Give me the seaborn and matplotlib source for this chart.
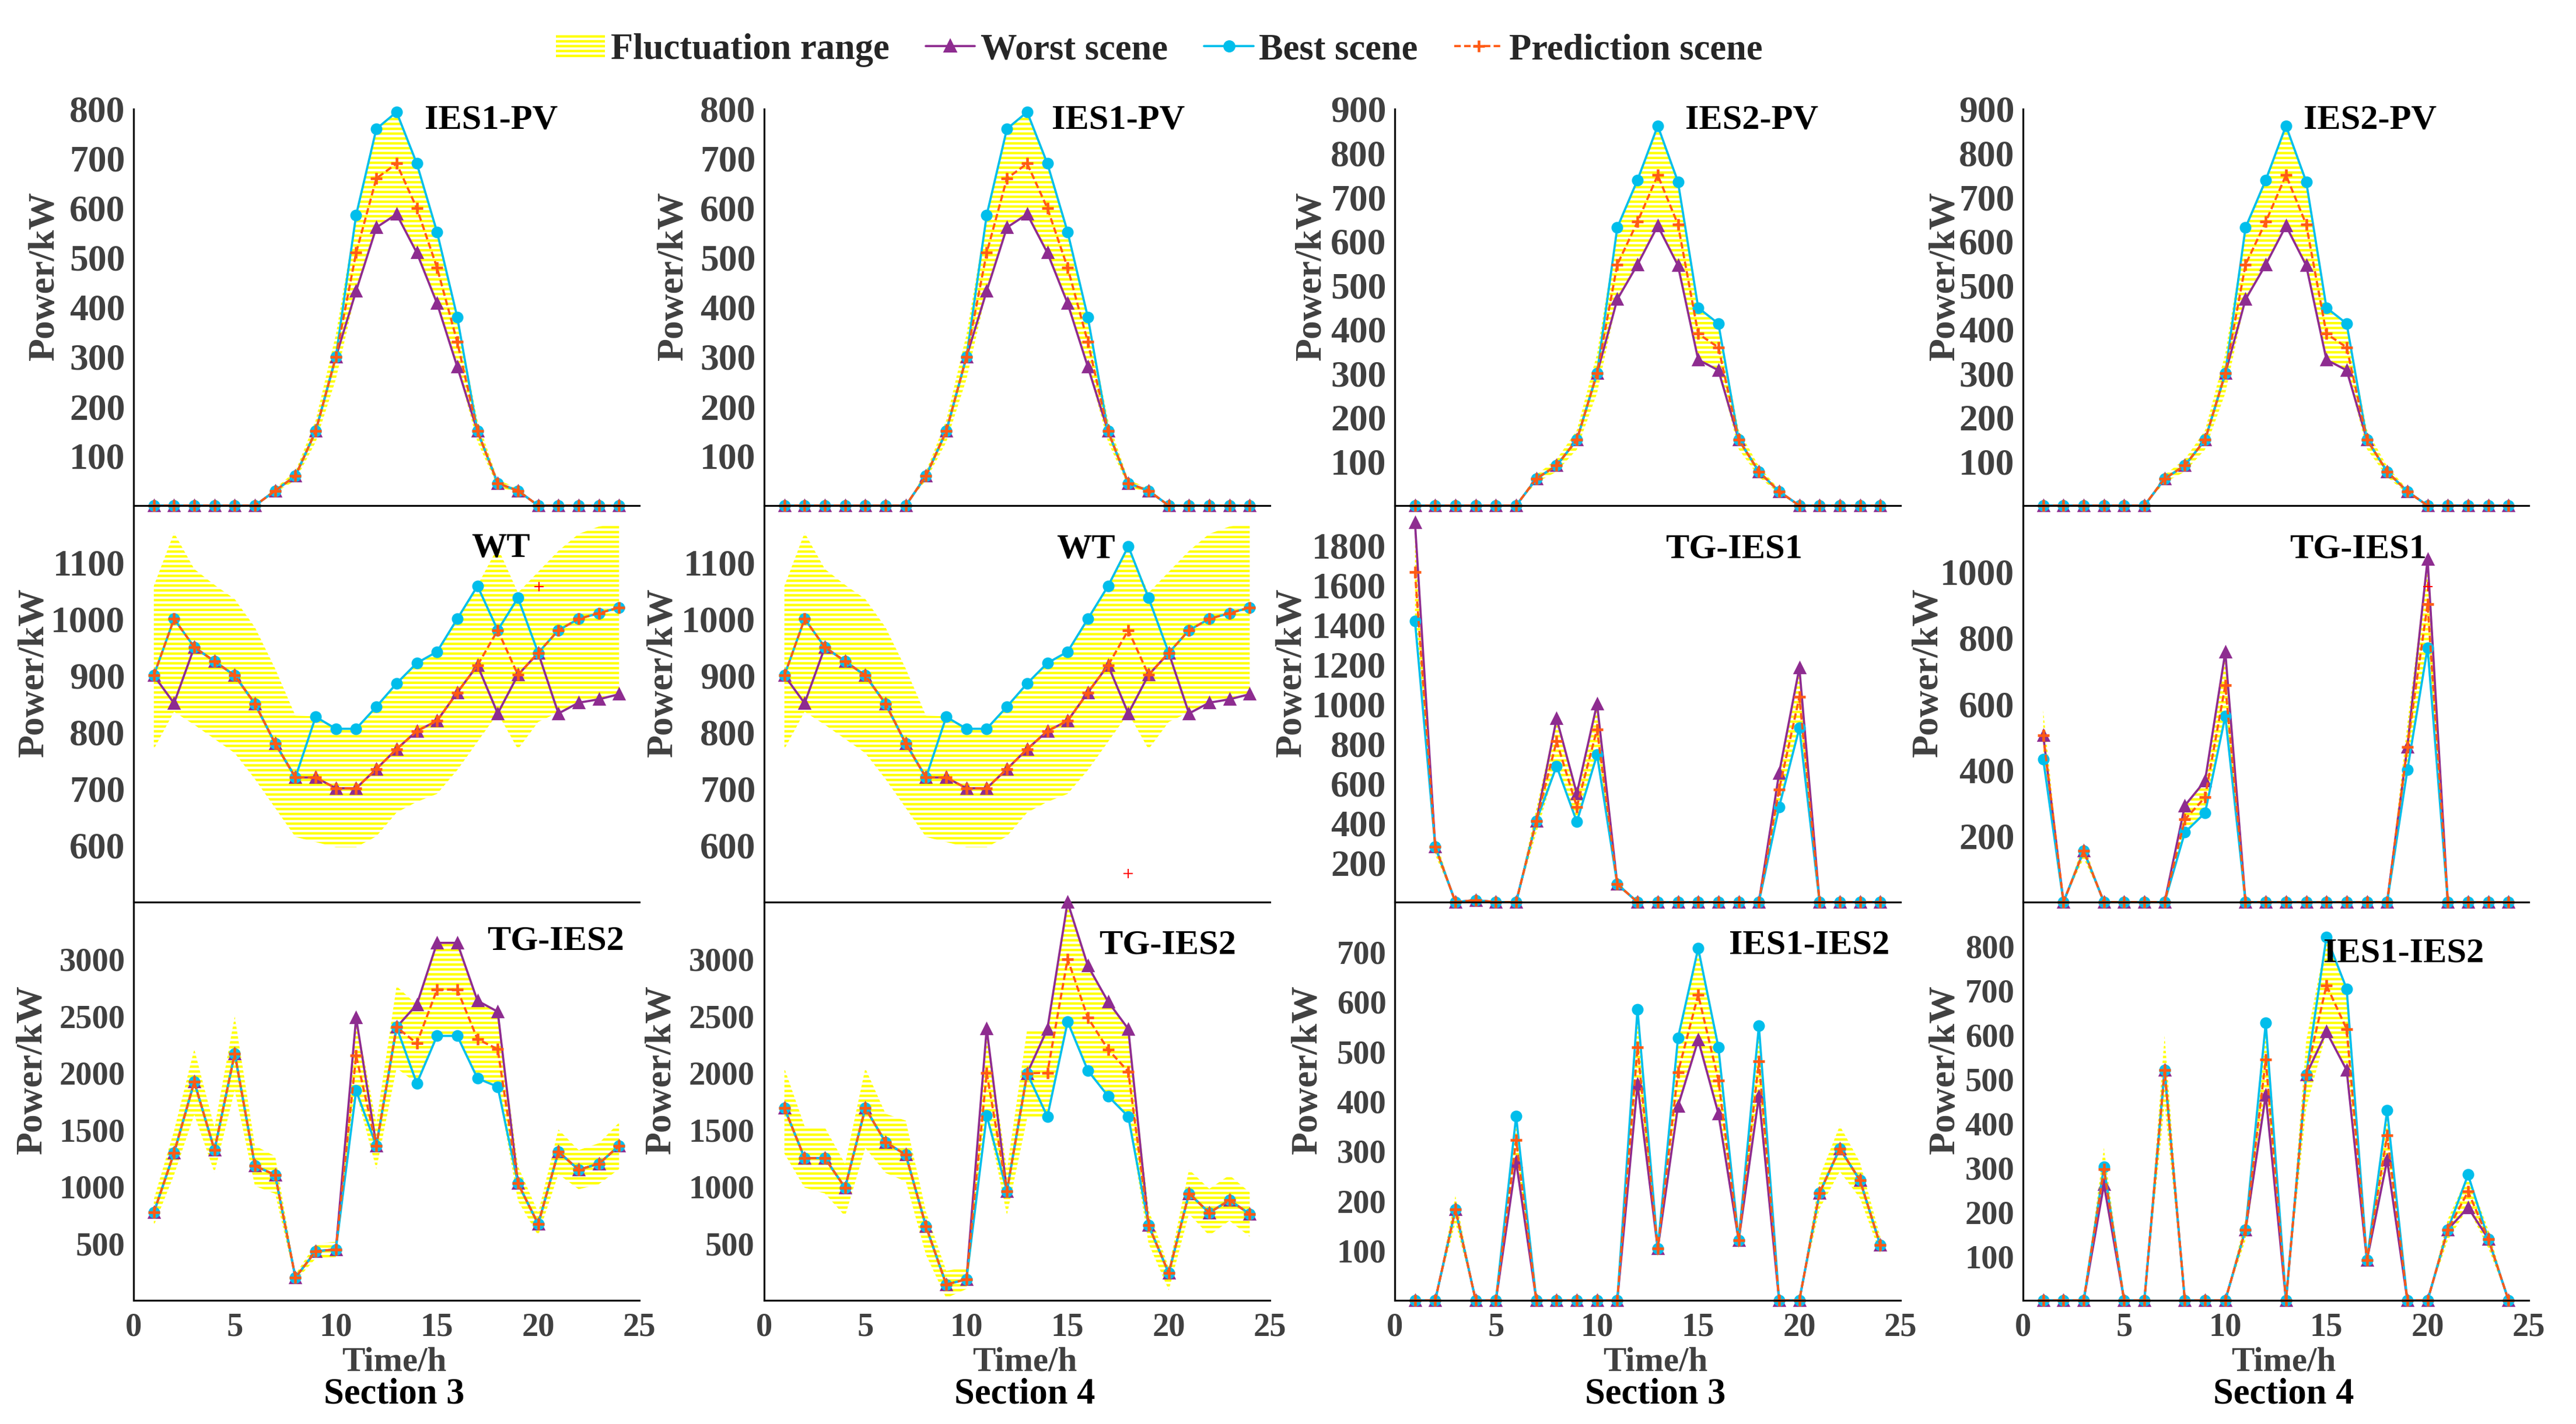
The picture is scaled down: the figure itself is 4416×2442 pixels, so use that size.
import matplotlib
matplotlib.use("Agg")
import matplotlib.pyplot as plt
from matplotlib.lines import Line2D
from matplotlib.patches import Patch
import seaborn as sns

# ---- data ----
hours = list(range(1, 25))

# IES1-PV
pv1_s3_pred = [0, 0, 0, 0, 0, 0, 30, 60, 150, 300, 510, 660, 690, 600, 480, 330, 150, 45, 30, 0, 0, 0, 0, 0]
pv1_s3_best = [0, 0, 0, 0, 0, 0, 30, 60, 150, 300, 586, 760, 794, 690, 552, 380, 150, 45, 30, 0, 0, 0, 0, 0]
pv1_s3_worst = [0, 0, 0, 0, 0, 0, 30, 60, 150, 300, 433, 561, 588, 510, 408, 280, 150, 45, 30, 0, 0, 0, 0, 0]
pv1_s3_lo = [0, 0, 0, 0, 0, 0, 26, 51, 128, 255, 433, 561, 587, 510, 408, 280, 128, 38, 26, 0, 0, 0, 0, 0]
pv1_s3_hi = [0, 0, 0, 0, 0, 0, 35, 69, 172, 345, 586, 759, 794, 690, 552, 380, 172, 52, 35, 0, 0, 0, 0, 0]

pv1_s4_pred = [0, 0, 0, 0, 0, 0, 0, 60, 150, 300, 510, 660, 690, 600, 480, 330, 150, 45, 30, 0, 0, 0, 0, 0]
pv1_s4_best = [0, 0, 0, 0, 0, 0, 0, 60, 150, 300, 586, 760, 794, 690, 552, 380, 150, 45, 30, 0, 0, 0, 0, 0]
pv1_s4_worst = [0, 0, 0, 0, 0, 0, 0, 60, 150, 300, 433, 561, 588, 510, 408, 280, 150, 45, 30, 0, 0, 0, 0, 0]
pv1_s4_lo = [0, 0, 0, 0, 0, 0, 0, 51, 128, 255, 433, 561, 587, 510, 408, 280, 128, 38, 26, 0, 0, 0, 0, 0]
pv1_s4_hi = [0, 0, 0, 0, 0, 0, 0, 69, 172, 345, 586, 759, 794, 690, 552, 380, 172, 52, 35, 0, 0, 0, 0, 0]

# IES2-PV (same in both sections)
pv2_pred = [0, 0, 0, 0, 0, 0, 61, 91, 149, 300, 547, 644, 750, 638, 390, 359, 150, 77, 32, 0, 0, 0, 0, 0]
pv2_best = [0, 0, 0, 0, 0, 0, 61, 91, 149, 300, 631, 739, 862, 735, 449, 413, 150, 77, 32, 0, 0, 0, 0, 0]
pv2_worst = [0, 0, 0, 0, 0, 0, 61, 91, 149, 300, 468, 547, 635, 545, 331, 307, 150, 77, 32, 0, 0, 0, 0, 0]
pv2_lo = [0, 0, 0, 0, 0, 0, 52, 77, 127, 255, 468, 547, 635, 545, 331, 307, 128, 65, 27, 0, 0, 0, 0, 0]
pv2_hi = [0, 0, 0, 0, 0, 0, 70, 105, 171, 345, 631, 739, 862, 735, 449, 413, 172, 89, 37, 0, 0, 0, 0, 0]

# WT
wt_s3_pred = [900, 1000, 950, 925, 900, 850, 780, 720, 720, 701, 701, 735, 770, 802, 820, 870, 918, 980, 901, 940, 980, 1000, 1010, 1020]
wt_s3_best = [900, 1000, 950, 925, 900, 850, 780, 720, 827, 806, 806, 845, 886, 922, 942, 1000, 1058, 980, 1037, 940, 980, 1000, 1010, 1020]
wt_s3_worst = [900, 851, 950, 925, 900, 850, 780, 720, 720, 701, 701, 735, 770, 802, 820, 870, 918, 833, 901, 940, 833, 852, 858, 867]
wt_s4_pred = wt_s3_pred
wt_s4_best = [900, 1000, 950, 925, 900, 850, 780, 720, 827, 806, 806, 845, 886, 922, 942, 1000, 1058, 1128, 1037, 940, 980, 1000, 1010, 1020]
wt_s4_worst = wt_s3_worst
wt_lo = [770, 836, 813, 788, 763, 717, 666, 615, 606, 597, 597, 616, 658, 677, 691, 733, 783, 833, 770, 818, 835, 852, 858, 867]
wt_hi = [1058, 1152, 1088, 1060, 1035, 985, 912, 829, 828, 807, 807, 845, 886, 922, 942, 1000, 1059, 1126, 1046, 1083, 1120, 1150, 1163, 1168]

# TG-IES1
tg1_s3_pred = [1665, 280, 0, 10, 0, 0, 410, 811, 480, 872, 90, 0, 0, 0, 0, 0, 0, 0, 568, 1034, 0, 0, 0, 0]
tg1_s3_best = [1419, 280, 0, 10, 0, 0, 410, 686, 405, 743, 90, 0, 0, 0, 0, 0, 0, 0, 480, 878, 0, 0, 0, 0]
tg1_s3_worst = [1915, 280, 0, 10, 0, 0, 410, 926, 547, 1000, 90, 0, 0, 0, 0, 0, 0, 0, 650, 1182, 0, 0, 0, 0]
tg1_s3_lo = [1415, 238, 0, 8, 0, 0, 349, 689, 408, 741, 77, 0, 0, 0, 0, 0, 0, 0, 483, 879, 0, 0, 0, 0]
tg1_s3_hi = [1915, 322, 0, 12, 0, 0, 472, 933, 552, 1003, 104, 0, 0, 0, 0, 0, 0, 0, 653, 1189, 0, 0, 0, 0]

tg1_s4_pred = [505, 0, 155, 0, 0, 0, 0, 250, 317, 656, 0, 0, 0, 0, 0, 0, 0, 0, 470, 902, 0, 0, 0, 0]
tg1_s4_best = [432, 0, 155, 0, 0, 0, 0, 211, 270, 563, 0, 0, 0, 0, 0, 0, 0, 0, 400, 770, 0, 0, 0, 0]
tg1_s4_worst = [505, 0, 155, 0, 0, 0, 0, 292, 367, 757, 0, 0, 0, 0, 0, 0, 0, 0, 470, 1038, 0, 0, 0, 0]
tg1_s4_lo = [429, 0, 132, 0, 0, 0, 0, 212, 269, 558, 0, 0, 0, 0, 0, 0, 0, 0, 400, 767, 0, 0, 0, 0]
tg1_s4_hi = [581, 0, 178, 0, 0, 0, 0, 288, 365, 754, 0, 0, 0, 0, 0, 0, 0, 0, 540, 1037, 0, 0, 0, 0]

# TG-IES2
tg2_s3_pred = [772, 1296, 1920, 1321, 2170, 1182, 1102, 200, 432, 448, 2151, 1358, 2401, 2259, 2731, 2731, 2296, 2207, 1028, 670, 1306, 1148, 1201, 1358]
tg2_s3_best = [772, 1296, 1920, 1321, 2170, 1182, 1102, 200, 432, 448, 1843, 1358, 2401, 1907, 2324, 2324, 1951, 1877, 1028, 670, 1306, 1148, 1201, 1358]
tg2_s3_worst = [772, 1296, 1920, 1321, 2170, 1182, 1102, 200, 432, 448, 2485, 1358, 2401, 2599, 3142, 3142, 2633, 2537, 1028, 670, 1306, 1148, 1201, 1358]
tg2_s3_lo = [656, 1102, 1632, 1123, 1845, 1005, 937, 170, 367, 381, 1828, 1154, 2041, 1907, 2321, 2321, 1951, 1876, 874, 570, 1110, 976, 1021, 1154]
tg2_s3_hi = [888, 1490, 2208, 1519, 2496, 1359, 1267, 230, 497, 515, 2485, 1562, 2761, 2599, 3142, 3142, 2640, 2538, 1182, 771, 1502, 1320, 1381, 1562]

tg2_s4_pred = [1690, 1250, 1250, 990, 1690, 1390, 1280, 650, 140, 185, 2000, 960, 1995, 2000, 3000, 2484, 2205, 2010, 660, 240, 940, 770, 880, 760]
tg2_s4_best = [1690, 1250, 1250, 990, 1690, 1390, 1280, 650, 140, 185, 1625, 960, 1995, 1615, 2450, 2020, 1795, 1615, 660, 240, 940, 770, 880, 760]
tg2_s4_worst = [1690, 1250, 1250, 990, 1690, 1390, 1280, 650, 140, 185, 2390, 960, 1995, 2385, 3500, 2940, 2625, 2385, 660, 240, 940, 770, 880, 760]
tg2_s4_lo = [1290, 990, 940, 740, 1340, 1120, 1045, 400, 20, 100, 1625, 750, 1600, 1615, 2450, 2020, 1795, 1615, 500, 90, 760, 570, 700, 560]
tg2_s4_hi = [2040, 1530, 1520, 1200, 2040, 1640, 1580, 780, 260, 290, 2390, 1150, 2380, 2385, 3500, 2940, 2625, 2385, 800, 290, 1150, 980, 1100, 950]

# IES1-IES2
tie_s3_pred = [0, 0, 183, 0, 0, 322, 0, 0, 0, 0, 0, 508, 104, 458, 614, 442, 121, 480, 0, 0, 216, 305, 241, 111]
tie_s3_best = [0, 0, 183, 0, 0, 370, 0, 0, 0, 0, 0, 585, 104, 527, 707, 508, 121, 552, 0, 0, 216, 305, 241, 111]
tie_s3_worst = [0, 0, 183, 0, 0, 279, 0, 0, 0, 0, 0, 434, 104, 390, 523, 375, 121, 410, 0, 0, 216, 305, 241, 111]
tie_s3_lo = [0, 0, 156, 0, 0, 274, 0, 0, 0, 0, 0, 432, 88, 389, 522, 376, 103, 408, 0, 0, 184, 259, 205, 94]
tie_s3_hi = [0, 0, 210, 0, 0, 370, 0, 0, 0, 0, 0, 584, 120, 527, 706, 508, 139, 552, 0, 0, 248, 351, 277, 128]

tie_s4_pred = [0, 0, 0, 296, 0, 0, 520, 0, 0, 0, 160, 544, 0, 510, 712, 613, 91, 373, 0, 0, 160, 246, 139, 0]
tie_s4_best = [0, 0, 0, 302, 0, 0, 520, 0, 0, 0, 160, 627, 0, 510, 821, 704, 91, 429, 0, 0, 160, 284, 139, 0]
tie_s4_worst = [0, 0, 0, 262, 0, 0, 520, 0, 0, 0, 160, 464, 0, 510, 607, 520, 91, 317, 0, 0, 160, 210, 139, 0]
tie_s4_lo = [0, 0, 0, 252, 0, 0, 442, 0, 0, 0, 136, 462, 0, 434, 605, 521, 77, 317, 0, 0, 136, 209, 118, 0]
tie_s4_hi = [0, 0, 0, 345, 0, 0, 598, 0, 0, 0, 184, 626, 0, 587, 819, 705, 105, 429, 0, 0, 184, 283, 160, 0]

# stray single markers visible in the picture
stray_wt_s3 = ([20.05], [1057])
stray_wt_s4 = ([18.0], [550])
stray_tg1_s4 = ([20.0], [955])

legend_labels = ["Fluctuation range", "Worst scene", "Best scene", "Prediction scene"]
section_labels = ["Section 3", "Section 4", "Section 3", "Section 4"]

# ---- style ----
sns.set_style("white")
plt.rcParams['font.family'] = ['Liberation Serif', 'DejaVu Serif']
plt.rcParams['font.weight'] = 'bold'
plt.rcParams['hatch.color'] = '#FFFF00'
plt.rcParams['hatch.linewidth'] = 1.0

C_WORST = '#8E2C90'
C_BEST = '#00BEEB'
C_PRED = '#FF5A14'
C_FILL = '#FFFF00'
GREY = '#404040'
HATCH = '------'

W, H = 4416, 2442
fig = plt.figure(figsize=(W / 300, H / 300), dpi=300)

col_left = [229, 1310, 2391, 3468]
col_w = 867
row_top = [187, 867, 1547]
row_h = [680, 680, 683]

panels = [
    # row 0
    dict(r=0, c=0, title="IES1-PV", tx=0.707, ty=0.95, d=(pv1_s3_lo, pv1_s3_hi, pv1_s3_worst, pv1_s3_best, pv1_s3_pred),
         ylim=(0, 800), yt=list(range(100, 801, 100)), lx=-0.142),
    dict(r=0, c=1, title="IES1-PV", tx=0.70, ty=0.95, d=(pv1_s4_lo, pv1_s4_hi, pv1_s4_worst, pv1_s4_best, pv1_s4_pred),
         ylim=(0, 800), yt=list(range(100, 801, 100)), lx=-0.146),
    dict(r=0, c=2, title="IES2-PV", tx=0.706, ty=0.95, d=(pv2_lo, pv2_hi, pv2_worst, pv2_best, pv2_pred),
         ylim=(0, 900), yt=list(range(100, 901, 100)), lx=-0.13),
    dict(r=0, c=3, title="IES2-PV", tx=0.686, ty=0.95, d=(pv2_lo, pv2_hi, pv2_worst, pv2_best, pv2_pred),
         ylim=(0, 900), yt=list(range(100, 901, 100)), lx=-0.12),
    # row 1
    dict(r=1, c=0, title="WT", tx=0.726, ty=0.87, d=(wt_lo, wt_hi, wt_s3_worst, wt_s3_best, wt_s3_pred),
         ylim=(500, 1200), yt=list(range(600, 1101, 100)), lx=-0.163, stray=stray_wt_s3),
    dict(r=1, c=1, title="WT", tx=0.636, ty=0.868, d=(wt_lo, wt_hi, wt_s4_worst, wt_s4_best, wt_s4_pred),
         ylim=(500, 1200), yt=list(range(600, 1101, 100)), lx=-0.166, stray=stray_wt_s4),
    dict(r=1, c=2, title="TG-IES1", tx=0.671, ty=0.868, d=(tg1_s3_lo, tg1_s3_hi, tg1_s3_worst, tg1_s3_best, tg1_s3_pred),
         ylim=(0, 2000), yt=list(range(200, 1801, 200)), lx=-0.17),
    dict(r=1, c=3, title="TG-IES1", tx=0.663, ty=0.868, d=(tg1_s4_lo, tg1_s4_hi, tg1_s4_worst, tg1_s4_best, tg1_s4_pred),
         ylim=(0, 1200), yt=list(range(200, 1001, 200)), lx=-0.153, stray=stray_tg1_s4),
    # row 2
    dict(r=2, c=0, title="TG-IES2", tx=0.834, ty=0.88, d=(tg2_s3_lo, tg2_s3_hi, tg2_s3_worst, tg2_s3_best, tg2_s3_pred),
         ylim=(0, 3500), yt=list(range(500, 3001, 500)), lx=-0.166),
    dict(r=2, c=1, title="TG-IES2", tx=0.798, ty=0.87, d=(tg2_s4_lo, tg2_s4_hi, tg2_s4_worst, tg2_s4_best, tg2_s4_pred),
         ylim=(0, 3500), yt=list(range(500, 3001, 500)), lx=-0.17,
         marks=[3500 / 6 * k for k in range(1, 6)]),
    dict(r=2, c=2, title="IES1-IES2", tx=0.82, ty=0.87, d=(tie_s3_lo, tie_s3_hi, tie_s3_worst, tie_s3_best, tie_s3_pred),
         ylim=(0, 800), yt=list(range(100, 701, 100)), lx=-0.139),
    dict(r=2, c=3, title="IES1-IES2", tx=0.753, ty=0.85, d=(tie_s4_lo, tie_s4_hi, tie_s4_worst, tie_s4_best, tie_s4_pred),
         ylim=(0, 900), yt=list(range(100, 801, 100)), lx=-0.12),
]


def draw_series(ax, values, color, marker, ls, ms, mew):
    sns.lineplot(x=hours, y=values, ax=ax, color=color, marker=marker, linestyle=ls,
                 linewidth=0.9, markersize=ms, markeredgecolor=color, markerfacecolor=color,
                 markeredgewidth=mew, clip_on=False, estimator=None, sort=False, legend=False)


for p in panels:
    r, c = p['r'], p['c']
    top, h = row_top[r], row_h[r]
    ax = fig.add_axes([col_left[c] / W, 1 - (top + h) / H, col_w / W, h / H])
    ax.set_facecolor('none')
    lo, hi, worst, best, pred = p['d']

    ax.fill_between(hours, lo, hi, facecolor='none', edgecolor=C_FILL, hatch=HATCH, linewidth=0)
    draw_series(ax, worst, C_WORST, '^', '-', 4.2, 0.8)
    draw_series(ax, best, C_BEST, 'o', '-', 4.0, 0.8)
    draw_series(ax, pred, C_PRED, '+', (0, (3, 1.5)), 5.0, 1.1)
    if 'stray' in p:
        sx, sy = p['stray']
        ax.plot(sx, sy, linestyle='none', marker='+', color='red', markersize=4, markeredgewidth=0.5)

    ax.set_xlim(0, 25)
    ax.set_ylim(*p['ylim'])
    ax.set_xticks([0, 5, 10, 15, 20, 25])
    lsize = 15.3 if r < 2 else 13.6
    if 'marks' in p:
        ax.set_yticks(p['marks'])
        ax.set_yticklabels([])
        ax.set_yticks(p['yt'], minor=True)
        ax.set_yticklabels([str(t) for t in p['yt']], minor=True)
        ax.tick_params(axis='y', which='minor', length=0, pad=4, labelsize=lsize, labelcolor=GREY)
    else:
        ax.set_yticks(p['yt'])
    ax.tick_params(axis='both', which='major', direction='in', length=2.2, width=0.75,
                   color='black', labelcolor=GREY, labelsize=lsize, pad=3.5)
    ax.tick_params(axis='x', pad=5)
    ax.set_xlabel('')
    ax.set_ylabel('Power/kW', fontsize=15.3, color=GREY, fontweight='bold')
    ax.yaxis.set_label_coords(p['lx'], 0.58)
    for s in ['top', 'right']:
        ax.spines[s].set_visible(False)
    for s in ['left', 'bottom']:
        ax.spines[s].set_color('black')
        ax.spines[s].set_linewidth(0.75)
    ax.grid(False)

    ax.text(p['tx'], p['ty'], p['title'], transform=ax.transAxes, ha='center', va='baseline',
            fontsize=14.5, fontweight='bold', color='black')

    if r < 2:
        ax.tick_params(axis='x', labelbottom=False)
    else:
        ax.text(0.515, -0.176, 'Time/h', transform=ax.transAxes, ha='center', va='baseline',
                fontsize=14.2, fontweight='bold', color=GREY)
        ax.text(0.515, -0.259, section_labels[c], transform=ax.transAxes, ha='center', va='baseline',
                fontsize=15, fontweight='bold', color='black')

handles = [
    Patch(facecolor='none', edgecolor=C_FILL, hatch=HATCH, linewidth=0),
    Line2D([], [], color=C_WORST, marker='^', markersize=4.2, linewidth=0.9),
    Line2D([], [], color=C_BEST, marker='o', markersize=4.0, linewidth=0.9),
    Line2D([], [], color=C_PRED, marker='+', markersize=5.0, markeredgewidth=1.1,
           linewidth=0.9, linestyle=(0, (3, 1.5))),
]
fig.legend(handles, legend_labels, loc='center', bbox_to_anchor=(0.45, 1 - 86 / H), ncol=4,
           frameon=False, prop={'size': 15, 'weight': 'bold'}, handlelength=1.35,
           handletextpad=0.15, columnspacing=1.0, numpoints=1)

fig.savefig('out.png', dpi=300)
